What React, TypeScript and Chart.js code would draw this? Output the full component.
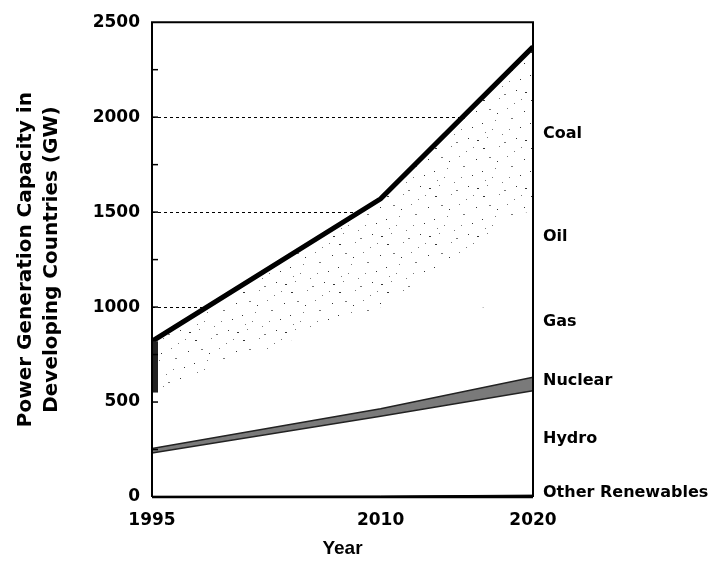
import { useEffect, useRef } from 'react';
import { Chart, registerables } from 'chart.js';

Chart.register(...registerables);

// ---- Data (GW, stacked increments) ----
const years = [1995, 2010, 2020];
const otherRenewables = [3, 5, 10];
const hydro = [229, 420, 550];
const nuclear = [23, 40, 70];
const gas = [145, 280, 490];
const oil = [150, 255, 400];
const coal = [270, 570, 850];

// right-side category labels and the GW level they sit at
const sideLabels = ['Coal', 'Oil', 'Gas', 'Nuclear', 'Hydro', 'Other Renewables'];
const sideLabelValues = [1910, 1370, 920, 610, 305, 20];

const gridValues = [1000, 1500, 2000];
const yTitle = ['Power Generation Capacity in', 'Developing Countries (GW)'];
const xTitle = 'Year';

const pts = (arr: number[]) => arr.map((v, i) => ({ x: years[i], y: v }));

function makeStipple(): CanvasPattern | string {
  const size = 48;
  const c = document.createElement('canvas');
  c.width = size;
  c.height = size;
  const g = c.getContext('2d');
  if (!g) return '#eee';
  g.fillStyle = '#ffffff';
  g.fillRect(0, 0, size, size);
  const dots = [
    [3, 4], [19, 2], [34, 7], [44, 15], [9, 13], [27, 12], [2, 27], [15, 24],
    [31, 22], [40, 31], [22, 38], [7, 41], [45, 44], [29, 33], [12, 33], [36, 42],
    [24, 46], [41, 3], [17, 17], [5, 36],
  ];
  dots.forEach(([x, y], i) => {
    g.fillStyle = i % 3 === 0 ? '#333' : '#777';
    g.fillRect(x, y, i % 4 === 0 ? 2 : 1, 1);
  });
  const p = g.createPattern(c, 'repeat');
  return p || '#eee';
}

const framePlugin = {
  id: 'framePlugin',
  beforeDatasetsDraw(chart: any) {
    const { ctx, chartArea } = chart;
    const y = chart.scales.y;
    ctx.save();
    ctx.strokeStyle = '#000';
    ctx.lineWidth = 1;
    ctx.setLineDash([3, 3]);
    gridValues.forEach((v) => {
      const py = Math.round(y.getPixelForValue(v)) + 0.5;
      ctx.beginPath();
      ctx.moveTo(chartArea.left, py);
      ctx.lineTo(chartArea.right, py);
      ctx.stroke();
    });
    ctx.restore();
  },
  afterDatasetsDraw(chart: any) {
    const { ctx, chartArea } = chart;
    const y = chart.scales.y;
    const { left, right, top, bottom } = chartArea;
    ctx.save();
    ctx.strokeStyle = '#000';
    ctx.setLineDash([]);
    // dense dark edge of the coal band at the first year
    const coalBase = otherRenewables[0] + hydro[0] + nuclear[0] + gas[0] + oil[0];
    ctx.lineWidth = 6;
    ctx.strokeStyle = '#222';
    ctx.beginPath();
    ctx.moveTo(left + 3, y.getPixelForValue(coalBase));
    ctx.lineTo(left + 3, y.getPixelForValue(coalBase + coal[0]));
    ctx.stroke();
    ctx.strokeStyle = '#000';
    // left / top / right frame
    ctx.lineWidth = 2;
    ctx.beginPath();
    ctx.moveTo(left, bottom);
    ctx.lineTo(left, top);
    ctx.lineTo(right, top);
    ctx.lineTo(right, bottom);
    ctx.stroke();
    // bottom axis
    ctx.lineWidth = 2.5;
    ctx.beginPath();
    ctx.moveTo(left, bottom);
    ctx.lineTo(right, bottom);
    ctx.stroke();
    // minor ticks on the left axis
    ctx.lineWidth = 1.5;
    for (let v = 250; v < 2500; v += 250) {
      const py = y.getPixelForValue(v);
      ctx.beginPath();
      ctx.moveTo(left, py);
      ctx.lineTo(left + 6, py);
      ctx.stroke();
    }
    // side labels
    ctx.fillStyle = '#000';
    ctx.font = 'bold 16px "DejaVu Sans"';
    ctx.textAlign = 'left';
    ctx.textBaseline = 'middle';
    sideLabels.forEach((t, i) => {
      ctx.fillText(t, right + 10, y.getPixelForValue(sideLabelValues[i]));
    });
    ctx.restore();
  },
};

export default function App() {
  const ref = useRef<HTMLCanvasElement>(null);
  useEffect(() => {
    document.body.style.margin = '0';
    if (!ref.current) return;
    const stipple = makeStipple();
    const base = { pointRadius: 0, tension: 0, borderWidth: 0 };
    const chart = new Chart(ref.current, {
      type: 'line',
      data: {
        datasets: [
          { ...base, label: 'Other Renewables', data: pts(otherRenewables), fill: 'origin', backgroundColor: '#000', borderColor: '#000', borderWidth: 1 },
          { ...base, label: 'Hydro', data: pts(hydro), fill: '-1', backgroundColor: '#fff', borderColor: '#222', borderWidth: 1.5 },
          { ...base, label: 'Nuclear', data: pts(nuclear), fill: '-1', backgroundColor: '#7a7a7a', borderColor: '#222', borderWidth: 1.5 },
          { ...base, label: 'Gas', data: pts(gas), fill: '-1', backgroundColor: '#fff', borderColor: 'rgba(0,0,0,0)' },
          { ...base, label: 'Oil', data: pts(oil), fill: '-1', backgroundColor: '#fff', borderColor: 'rgba(0,0,0,0)' },
          { ...base, label: 'Coal', data: pts(coal), fill: '-1', backgroundColor: stipple as any, borderColor: '#000', borderWidth: 5 },
        ],
      },
      options: {
        responsive: false,
        animation: false,
        devicePixelRatio: 1,
        layout: { padding: { top: 20, right: 182, left: 0, bottom: 0 } },
        plugins: { legend: { display: false }, tooltip: { enabled: false } },
        scales: {
          x: {
            type: 'linear',
            min: 1995,
            max: 2020,
            grid: { display: false, drawTicks: false },
            border: { display: false },
            afterBuildTicks: (s: any) => {
              s.ticks = years.map((v) => ({ value: v }));
            },
            afterFit: (s: any) => {
              s.height = 71;
            },
            ticks: {
              autoSkip: false,
              maxRotation: 0,
              padding: 13,
              color: '#000',
              font: { family: '"DejaVu Sans"', size: 17, weight: 'bold' },
              callback: (v: any) => String(v),
            },
            title: {
              display: true,
              text: xTitle,
              color: '#000',
              font: { family: '"Liberation Sans"', size: 19, weight: 'bold' },
              padding: { top: 0, bottom: 8 },
            },
          },
          y: {
            stacked: true,
            min: 0,
            max: 2500,
            grid: { display: false, drawTicks: false },
            border: { display: false },
            afterFit: (s: any) => {
              s.width = 152;
            },
            ticks: {
              stepSize: 250,
              padding: 12,
              color: '#000',
              font: { family: '"DejaVu Sans"', size: 17, weight: 'bold' },
              callback: (v: any) => (Number(v) % 500 === 0 ? String(v) : ''),
            },
            title: {
              display: true,
              text: yTitle,
              color: '#000',
              font: { family: '"DejaVu Sans"', size: 20, weight: 'bold', lineHeight: 1.3 },
              padding: { top: 13, bottom: 0 },
            },
          },
        },
      },
      plugins: [framePlugin],
    } as any);
    return () => chart.destroy();
  }, []);
  return (
    <div style={{ width: 715, height: 568 }}>
      <canvas ref={ref} width={715} height={568} style={{ display: 'block' }} />
    </div>
  );
}
